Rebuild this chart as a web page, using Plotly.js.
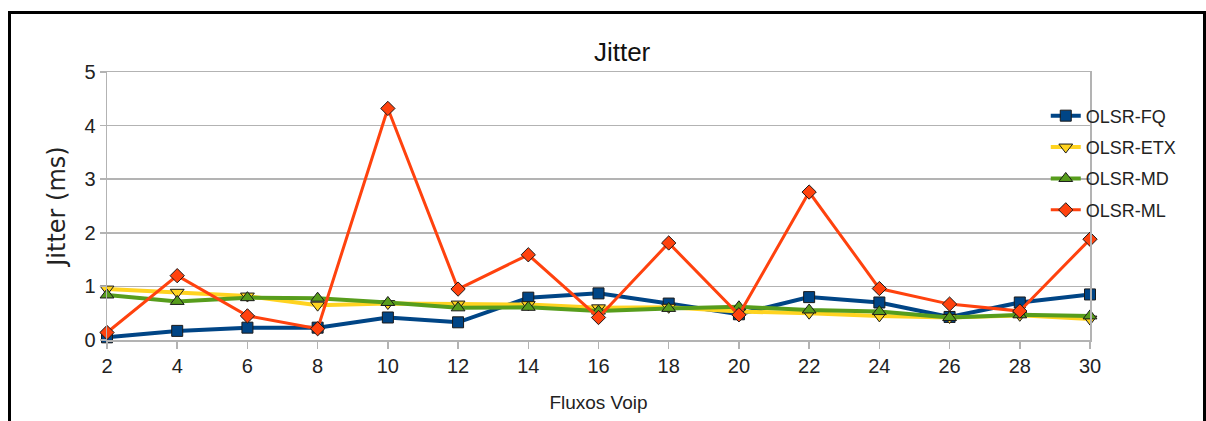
<!DOCTYPE html>
<html>
<head>
<meta charset="utf-8">
<script src="https://cdn.plot.ly/plotly-3.0.1.min.js"></script>
<style>
  html, body { margin: 0; padding: 0; background: #fff; }
  #chart { width: 1206px; height: 421px; }
  #frame { position: absolute; left: 8px; top: 11px; width: 1192px; height: 420px;
           border: 3px solid #000; border-bottom: none; pointer-events: none; }
</style>
</head>
<body>
<div id="chart"></div>
<div id="frame"></div>
<script>
const flows = [2, 4, 6, 8, 10, 12, 14, 16, 18, 20, 22, 24, 26, 28, 30];
const olsrFQ  = [0.05, 0.17, 0.23, 0.23, 0.42, 0.33, 0.79, 0.87, 0.68, 0.48, 0.80, 0.70, 0.43, 0.70, 0.85];
const olsrETX = [0.95, 0.89, 0.82, 0.65, 0.68, 0.67, 0.66, 0.60, 0.61, 0.53, 0.50, 0.45, 0.42, 0.46, 0.39];
const olsrMD  = [0.84, 0.72, 0.79, 0.78, 0.70, 0.60, 0.61, 0.54, 0.59, 0.62, 0.56, 0.53, 0.42, 0.47, 0.45];
const olsrML  = [0.14, 1.20, 0.45, 0.21, 4.32, 0.95, 1.59, 0.42, 1.81, 0.47, 2.76, 0.96, 0.67, 0.54, 1.88];
const seriesNames = ['OLSR-FQ', 'OLSR-ETX', 'OLSR-MD', 'OLSR-ML'];

const font = 'Liberation Sans, Arial, sans-serif';
const mk = (name, y, color, lw, symbol, size) => ({
  type: 'scatter', mode: 'lines+markers', name: name, x: flows, y: y,
  legendgroup: name, cliponaxis: false,
  line: { color: color, width: lw },
  marker: { symbol: symbol, size: size, color: color, line: { color: '#1a1a1a', width: 1 } }
});

const data = [
  mk(seriesNames[0], olsrFQ,  '#004586', 4, 'square', 11),
  mk(seriesNames[1], olsrETX, '#ffd320', 4, 'triangle-down', 12),
  mk(seriesNames[2], olsrMD,  '#579d1c', 4, 'triangle-up', 12),
  mk(seriesNames[3], olsrML,  '#ff420e', 3, 'diamond', 11)
];

const layout = {
  width: 1206, height: 421,
  margin: { l: 107, r: 116, t: 72, b: 81 },
  paper_bgcolor: '#ffffff', plot_bgcolor: '#ffffff',
  font: { family: font, color: '#222', size: 19 },
  title: { text: 'Jitter', x: 0.524, xref: 'paper', xanchor: 'center', y: 0.876, yanchor: 'middle',
           font: { family: font, size: 26, color: '#111' } },
  xaxis: {
    range: [2, 30], tickvals: flows, ticktext: flows.map(String),
    showgrid: false, zeroline: false,
    showline: true, linecolor: '#b3b3b3', linewidth: 1.5, mirror: true,
    ticks: 'outside', ticklen: 7, tickcolor: '#b3b3b3', tickwidth: 1.5,
    tickfont: { family: font, size: 20, color: '#222' },
    title: { text: 'Fluxos Voip', standoff: 20, font: { family: font, size: 19, color: '#222' } }
  },
  yaxis: {
    range: [0, 5], tickvals: [0, 1, 2, 3, 4, 5],
    showgrid: true, gridcolor: '#b3b3b3', gridwidth: 1.5, zeroline: false,
    showline: true, linecolor: '#b3b3b3', linewidth: 1.5, mirror: true,
    ticks: 'outside', ticklen: 6, tickcolor: '#b3b3b3', tickwidth: 1.5,
    tickfont: { family: font, size: 20, color: '#222' },
    title: { text: 'Jitter (ms)', standoff: 12, font: { family: 'DejaVu Sans, sans-serif', size: 24, color: '#222' } }
  },
  showlegend: true,
  legend: {
    x: 0.955, xanchor: 'left', y: 0.905, yanchor: 'top',
    bgcolor: 'rgba(0,0,0,0)', borderwidth: 0,
    traceorder: 'grouped', tracegroupgap: 5,
    font: { family: font, size: 18, color: '#222' }
  }
};

Plotly.newPlot('chart', data, layout, { displayModeBar: false, staticPlot: true });
</script>
</body>
</html>
